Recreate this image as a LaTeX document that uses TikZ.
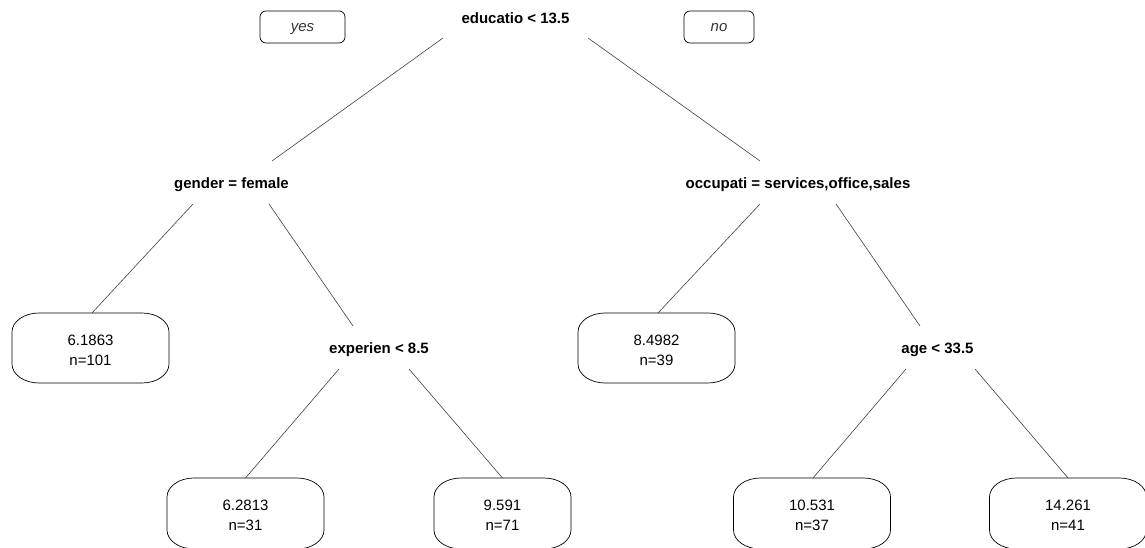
\documentclass[tikz,border=0pt]{standalone}
\usepackage{fontspec}
\setmainfont{Liberation Sans}
\begin{document}
\begin{tikzpicture}[x=1pt,y=1pt,
  split/.style={font=\fontsize{15}{21}\selectfont\bfseries, inner sep=0pt, outer sep=0pt, minimum height=43pt, text height=12pt, text depth=0pt},
  leaf/.style={font=\fontsize{15}{20}\selectfont, align=center, inner sep=0pt, outer sep=0pt, minimum width=157pt, minimum height=70pt, text height=35pt, text depth=0pt},
  tag/.style={draw=black, line width=0.7pt, rounded corners=6pt, font=\fontsize{15}{18}\selectfont\itshape, text=black!80, inner sep=0pt, outer sep=0pt, minimum height=32pt, text height=10pt, text depth=0pt},
  branch/.style={draw=black!75, line width=0.6pt},
  leafline/.style={draw=black, line width=0.7pt}]
\newcommand\lfrx{27pt}
\newcommand\lfry{19pt}
\newcommand\leafshape[1]{\draw[leafline] ([xshift=\lfrx]#1.north west) -- ([xshift=-\lfrx]#1.north east)
  arc[start angle=90,end angle=0,x radius=\lfrx,y radius=\lfry] -- ([yshift=\lfry]#1.south east)
  arc[start angle=0,end angle=-90,x radius=\lfrx,y radius=\lfry] -- ([xshift=\lfrx]#1.south west)
  arc[start angle=270,end angle=180,x radius=\lfrx,y radius=\lfry] -- ([yshift=-\lfry]#1.north west)
  arc[start angle=180,end angle=90,x radius=\lfrx,y radius=\lfry] -- cycle;}
\useasboundingbox (0,0) rectangle (1145,548);
\clip (0,0) rectangle (1145,548);
% split nodes
\node[split, minimum width=145pt, minimum height=40pt] (root) at (515.5,530) {educatio < 13.5};
\node[split] (gender) at (231.5,365.5) {gender = female};
\node[split] (occ) at (798,365.5) {occupati = services,office,sales};
\node[split] (exp) at (379,200.5) {experien < 8.5};
\node[split] (age) at (937.5,200.5) {age < 33.5};
% yes / no tags
\node[tag, minimum width=85pt] (yes) at (302.5,521) {yes};
\node[tag, minimum width=70pt] (no) at (719,521) {no};
% leaves
\node[leaf] (L1) at (90.5,200) {6.1863\\n=101};
\node[leaf] (L2) at (656.5,200) {8.4982\\n=39};
\node[leaf, minimum height=71pt] (L3) at (245.5,34.5) {6.2813\\n=31};
\node[leaf, minimum height=71pt, minimum width=137pt] (L4) at (502.5,34.5) {9.591\\n=71};
\node[leaf, minimum height=71pt] (L5) at (812,34.5) {10.531\\n=37};
\node[leaf, minimum height=71pt] (L6) at (1068,34.5) {14.261\\n=41};
\foreach \n in {L1,L2,L3,L4,L5,L6} {\leafshape{\n}}
% branches
\draw[branch] (root.south west) -- ([xshift=40.5pt]gender.north);
\draw[branch] (root.south east) -- ([xshift=-38pt]occ.north);
\draw[branch] ([xshift=-38.5pt]gender.south) -- ([xshift=1.5pt]L1.north);
\draw[branch] ([xshift=37.5pt]gender.south) -- ([xshift=-26pt]exp.north);
\draw[branch] ([xshift=-38pt]occ.south) -- ([xshift=1.5pt]L2.north);
\draw[branch] ([xshift=38pt]occ.south) -- ([xshift=-17.5pt]age.north);
\draw[branch] ([xshift=-40pt]exp.south) -- (L3.north);
\draw[branch] ([xshift=30pt]exp.south) -- (L4.north);
\draw[branch] ([xshift=-31.5pt]age.south) -- ([xshift=1pt]L5.north);
\draw[branch] ([xshift=37.5pt]age.south) -- (L6.north);
\end{tikzpicture}
\end{document}
